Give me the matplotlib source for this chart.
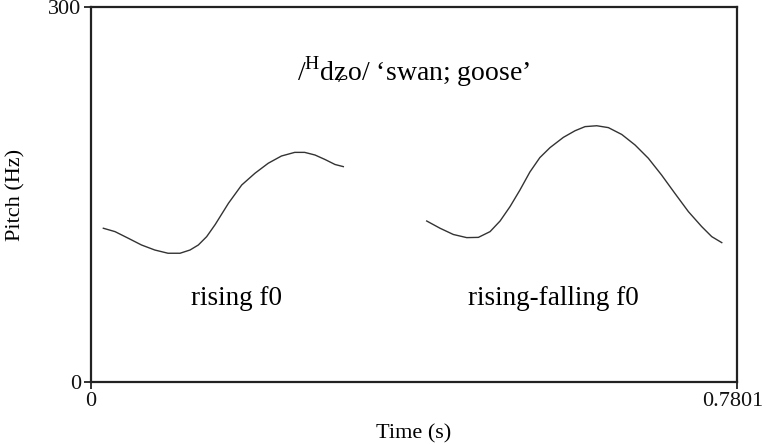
import matplotlib
matplotlib.use("Agg")
import matplotlib.pyplot as plt
import matplotlib.transforms as mtransforms

plt.rcParams['font.family'] = ['Liberation Serif', 'DejaVu Serif']
plt.rcParams['mathtext.fontset'] = 'custom'
plt.rcParams['mathtext.rm'] = 'Liberation Serif'

# Data
time_rising = [0.0149, 0.029, 0.045, 0.061, 0.077, 0.093, 0.1075, 0.1196, 0.1296, 0.1397,
               0.150, 0.166, 0.182, 0.198, 0.214, 0.230, 0.246, 0.258, 0.2705, 0.2826,
               0.2947, 0.3047]
pitch_rising = [123.0, 120.3, 115.0, 109.6, 105.6, 103.0, 103.0, 105.6, 109.6, 116.3,
                126.0, 143.0, 157.6, 167.0, 175.0, 180.8, 183.7, 183.7, 181.6, 178.0,
                174.0, 172.3]

time_rf = [0.4054, 0.4215, 0.4376, 0.4537, 0.4678, 0.4819, 0.494, 0.506, 0.518, 0.530,
           0.542, 0.5543, 0.5704, 0.5845, 0.5966, 0.6107, 0.6248, 0.641, 0.657, 0.673,
           0.689, 0.705, 0.7214, 0.7375, 0.7496, 0.7617]
pitch_rf = [128.8, 123.0, 118.0, 115.5, 115.7, 120.3, 128.8, 140.3, 153.6, 168.0,
            179.5, 187.5, 195.7, 201.0, 204.3, 205.0, 203.5, 198.0, 189.6, 179.0,
            165.6, 151.0, 136.3, 124.3, 116.3, 111.5]

x_ticks = [0, 0.7801]
x_tick_labels = ["0", "0.7801"]
y_ticks = [0, 300]
y_tick_labels = ["0", "300"]

fig = plt.figure(figsize=(7.66, 4.44), dpi=100)
ax = fig.add_axes([91/766, 1-382/444, (737-91)/766, (382-7)/444])

line_kw = dict(color='#333333', lw=1.0, solid_joinstyle='round')
ax.plot(time_rising, pitch_rising, **line_kw)
ax.plot(time_rf, pitch_rf, **line_kw)

ax.set_xlim(0, 0.7801)
ax.set_ylim(0, 300)
ax.set_xticks(x_ticks)
ax.set_xticklabels(x_tick_labels)
ax.set_yticks(y_ticks)
ax.set_yticklabels(y_tick_labels)
ax.tick_params(direction='out', length=5, width=1.2, labelsize=16, pad=2, colors='#111111')
for s in ax.spines.values():
    s.set_linewidth(1.6)
    s.set_color('#222222')

# nudge the last x tick label slightly left so it stays inside the figure
xl = ax.get_xticklabels()
offset = mtransforms.ScaledTranslation(-4/100, 0, fig.dpi_scale_trans)
xl[-1].set_transform(xl[-1].get_transform() + offset)

ax.set_xlabel("Time (s)", fontsize=16, labelpad=10)
ax.set_ylabel("Pitch (Hz)", fontsize=16, labelpad=16)

ax.text(0.390, 248, r"/$^{\mathrm{H}}$dʑo/ ‘swan; goose’", ha='center', va='center', fontsize=20)
ax.text(0.176, 67, "rising f0", ha='center', va='center', fontsize=19.5)
ax.text(0.558, 67, "rising-falling f0", ha='center', va='center', fontsize=19.5)

fig.savefig("out.png", dpi=100)
